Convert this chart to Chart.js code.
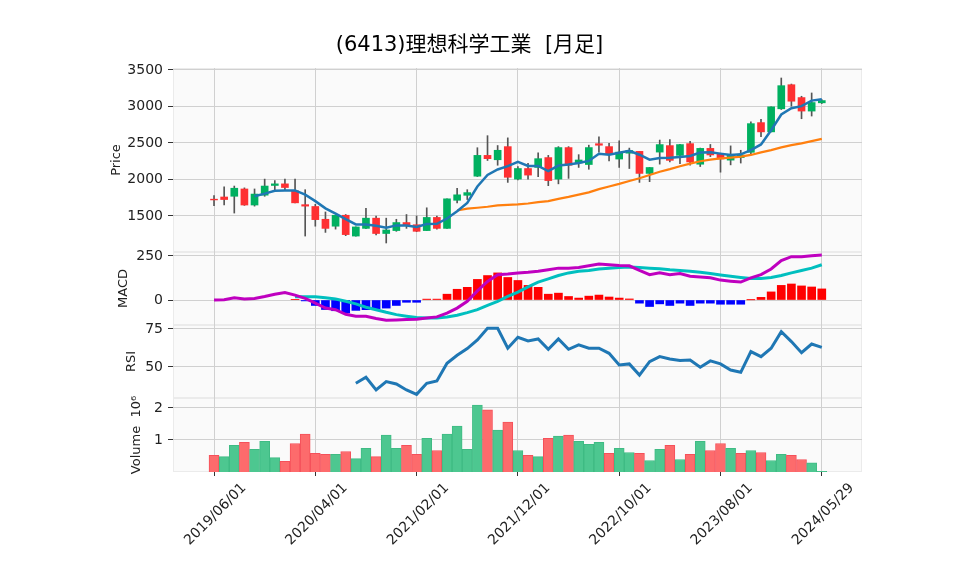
<!DOCTYPE html>
<html>
<head>
<meta charset="utf-8">
<script src="https://cdn.jsdelivr.net/npm/chart.js@4.4.1/dist/chart.umd.min.js"></script>
<style>
  html, body { margin: 0; padding: 0; background: #fff; }
</style>
</head>
<body>
<canvas id="myChart" width="958" height="575"></canvas>
<script>
// monthly candles, index 0 = 2019/06 ... index 60 = 2024/05/29
const tickIndex = [0, 10, 20, 30, 40, 50, 60];
const tickLabels = ["2019/06/01", "2020/04/01", "2021/02/01", "2021/12/01", "2022/10/01", "2023/08/01", "2024/05/29"];

const opens = [1730, 1760, 1770, 1870, 1650, 1785, 1918, 1940, 1845, 1655,
  1630, 1455, 1360, 1510, 1225, 1330, 1470, 1260, 1300, 1410,
  1380, 1300, 1480, 1330, 1715, 1783, 2045, 2330, 2270, 2450,
  2005, 2150, 2165, 2300, 2005, 2437, 2227, 2205, 2490, 2450,
  2280, 2360, 2385, 2083, 2375, 2464, 2330, 2491, 2209, 2426,
  2345, 2265, 2300, 2372, 2779, 2652, 2968, 3298, 3122, 2937, 3050];
const highs = [1780, 1900, 1910, 1885, 1870, 2005, 1985, 2005, 2005, 1860,
  1660, 1555, 1510, 1520, 1350, 1605, 1500, 1470, 1455, 1520,
  1500, 1612, 1500, 1735, 1880, 1860, 2435, 2600, 2465, 2570,
  2175, 2220, 2365, 2330, 2450, 2450, 2340, 2470, 2585, 2495,
  2530, 2430, 2385, 2165, 2540, 2545, 2480, 2522, 2430, 2480,
  2358, 2460, 2400, 2790, 2825, 2995, 3390, 3307, 3140, 3185, 3095];
const lows = [1640, 1650, 1540, 1645, 1635, 1770, 1845, 1860, 1680, 1225,
  1360, 1275, 1320, 1230, 1225, 1325, 1240, 1130, 1290, 1330,
  1285, 1300, 1320, 1330, 1680, 1725, 2040, 2260, 2195, 1960,
  1995, 2005, 2040, 1915, 1940, 2015, 2165, 2140, 2375, 2255,
  2165, 2150, 1960, 1970, 2210, 2240, 2215, 2195, 2177, 2313,
  2100, 2200, 2225, 2335, 2585, 2650, 2959, 3004, 2832, 2869, 3040];
const closes = [1720, 1725, 1880, 1650, 1800, 1910, 1940, 1890, 1680, 1635,
  1450, 1330, 1510, 1245, 1350, 1470, 1260, 1308, 1410, 1380,
  1290, 1480, 1330, 1735, 1790, 1820, 2330, 2285, 2400, 2030,
  2150, 2060, 2285, 1985, 2437, 2195, 2267, 2437, 2469, 2352,
  2375, 2397, 2083, 2164, 2478, 2262, 2478, 2240, 2426, 2336,
  2281, 2345, 2335, 2765, 2652, 2995, 3285, 3072, 2937, 3054, 3081];

// volume in millions of shares
const volumes = [0.52, 0.48, 0.83, 0.93, 0.71, 0.96, 0.45, 0.33, 0.89, 1.18,
  0.58, 0.55, 0.55, 0.64, 0.42, 0.74, 0.48, 1.15, 0.74, 0.83,
  0.55, 1.05, 0.67, 1.18, 1.43, 0.71, 2.09, 1.94, 1.31, 1.56,
  0.67, 0.52, 0.48, 1.05, 1.12, 1.15, 0.96, 0.86, 0.93, 0.58,
  0.74, 0.61, 0.58, 0.36, 0.71, 0.83, 0.39, 0.55, 0.96, 0.67,
  0.89, 0.74, 0.58, 0.67, 0.61, 0.36, 0.55, 0.52, 0.39, 0.29, 0.02];

// moving averages, first value at index 4 / 24
const ma5Start = 4;
const ma5 = [1770, 1806, 1846, 1850, 1850, 1792, 1703, 1604, 1532, 1456,
  1384, 1384, 1367, 1340, 1371, 1371, 1349, 1389, 1393, 1465,
  1564, 1680, 1904, 2061, 2137, 2182, 2240, 2186, 2186, 2115,
  2191, 2204, 2227, 2254, 2352, 2339, 2366, 2392, 2339, 2272,
  2294, 2298, 2307, 2321, 2370, 2372, 2354, 2336, 2345, 2403,
  2480, 2675, 2890, 2975, 3005, 3080, 3100];
const ma25Start = 24;
const ma25 = [1575, 1600, 1613, 1626, 1644, 1653, 1658, 1671, 1690, 1703,
  1734, 1761, 1792, 1823, 1868, 1904, 1940, 1980, 2016, 2061,
  2106, 2142, 2182, 2218, 2250, 2272, 2290, 2300, 2313, 2336,
  2372, 2403, 2440, 2471, 2494, 2525, 2557];

const macd = [0, 2, 13, 6, 9, 20, 33, 43, 28, 9,
  -18, -46, -55, -81, -92, -92, -105, -115, -113, -111,
  -109, -102, -96, -74, -46, -7, 52, 105, 144, 148,
  154, 157, 163, 172, 181, 181, 185, 194, 204, 200,
  196, 194, 168, 144, 154, 144, 150, 135, 131, 126,
  113, 107, 102, 126, 144, 176, 224, 246, 246, 252, 255];
const signalStart = 8;
const signal = [18, 18, 18, 13, 6, -7, -22, -41, -55, -70,
  -83, -92, -100, -102, -102, -96, -87, -72, -55, -30,
  -8, 20, 45, 75, 102, 120, 139, 154, 163, 168,
  176, 181, 185, 187, 185, 181, 178, 172, 168, 163,
  157, 150, 142, 135, 128, 122, 122, 128, 139, 154,
  168, 181, 200];
const histStart = 8;
const hist = [4, -5, -31, -54, -61, -74, -59, -55, -50, -46,
  -31, -13, -13, 5, 5, 33, 61, 72, 117, 139,
  154, 128, 111, 83, 72, 33, 39, 20, 11, 22,
  28, 17, 11, 6, -18, -37, -22, -31, -18, -31,
  -18, -18, -24, -24, -24, 1, 15, 46, 83, 91,
  80, 74, 63];

const rsiStart = 14;
const rsi = [39.3, 43.2, 34.9, 40.4, 38.8, 34.9, 32.0, 39.3, 40.8, 52.4,
  57.7, 62.1, 67.8, 75.4, 75.4, 62.3, 69.5, 67.1, 68.4, 61.6,
  68.4, 61.6, 64.5, 62.3, 62.3, 59.0, 51.3, 52.0, 44.7, 53.5,
  56.8, 55.3, 54.2, 54.6, 49.8, 54.0, 52.0, 48.0, 46.5, 60.1,
  56.8, 62.3, 73.2, 66.7, 59.4, 65.1, 62.9];

const UP = "#00b060";
const DOWN = "#fe3032";
const VOL_UP = "#4dc790";
const VOL_DOWN = "#fd6b6c";

const tickFont = { family: "'DejaVu Sans', sans-serif", size: 14 };
const titleFont = { family: "'DejaVu Sans', sans-serif", size: 13 };

const series = (arr, start) => arr.map((v, k) => ({ x: k + start, y: v }));
const candleUp = opens.map((o, i) => closes[i] >= o);
const volUp = closes.map((c, i) => i > 0 && c >= closes[i - 1]);

const yAxis = (min, max, ticks, title, titlePad, weight) => ({
  type: "linear",
  position: "left",
  stack: "panels",
  stackWeight: weight,
  min: min,
  max: max,
  afterBuildTicks: (axis) => {
    axis.ticks = ticks.map((v) => ({ value: v }));
  },
  afterFit: (axis) => {
    axis.width = 96;
  },
  grid: { color: "#d0d0d0", tickColor: "#333", tickLength: 5 },
  border: { display: false },
  ticks: { color: "#222", font: tickFont, padding: 5, callback: (v) => String(v) },
  title: {
    display: true,
    text: title,
    color: "#222",
    font: titleFont,
    padding: { top: titlePad, bottom: 0 },
  },
});

const panelBg = {
  id: "panelBg",
  beforeDraw(chart) {
    const { ctx, chartArea } = chart;
    ctx.save();
    ctx.fillStyle = "#fff";
    ctx.fillRect(0, 0, chart.width, chart.height);
    ["yPrice", "yMacd", "yRsi", "yVol"].forEach((id) => {
      const s = chart.scales[id];
      ctx.fillStyle = "#fafafa";
      ctx.fillRect(chartArea.left, s.top, chartArea.right - chartArea.left, s.bottom - s.top);
      ctx.strokeStyle = "#ebebeb";
      ctx.lineWidth = 1;
      ctx.strokeRect(chartArea.left + 0.5, s.top + 0.5, chartArea.right - chartArea.left - 1, s.bottom - s.top - 1);
    });
    ctx.restore();
  },
};

const lineDs = (label, data, axis, color, width) => ({
  type: "line",
  label: label,
  data: data,
  yAxisID: axis,
  borderColor: color,
  borderWidth: width,
  pointRadius: 0,
  tension: 0,
  fill: false,
  order: 0,
});

const ctx = document.getElementById("myChart");
new Chart(ctx, {
  type: "line",
  data: {
    datasets: [
      lineDs("MA5", series(ma5, ma5Start), "yPrice", "#1f77b4", 2.5),
      lineDs("MA25", series(ma25, ma25Start), "yPrice", "#ff7f0e", 2.2),
      {
        type: "bar",
        label: "body",
        data: opens.map((o, i) => ({ x: i, y: [o, closes[i]] })),
        yAxisID: "yPrice",
        backgroundColor: candleUp.map((u) => (u ? UP : DOWN)),
        barThickness: 7,
        grouped: false,
        order: 1,
      },
      {
        type: "bar",
        label: "wick",
        data: lows.map((l, i) => ({ x: i, y: [l, highs[i]] })),
        yAxisID: "yPrice",
        backgroundColor: "#555",
        barThickness: 1,
        grouped: false,
        order: 2,
      },
      lineDs("MACD", series(macd, 0), "yMacd", "#bf00bf", 3),
      lineDs("Signal", series(signal, signalStart), "yMacd", "#00bfbf", 3),
      {
        type: "bar",
        label: "hist",
        data: series(hist, histStart),
        yAxisID: "yMacd",
        backgroundColor: hist.map((h) => (h >= 0 ? "#ff0000" : "#0000ff")),
        barThickness: 8,
        grouped: false,
        order: 1,
      },
      lineDs("RSI", series(rsi, rsiStart), "yRsi", "#1f77b4", 3),
      {
        type: "bar",
        label: "Volume",
        data: series(volumes, 0),
        yAxisID: "yVol",
        backgroundColor: volUp.map((u) => (u ? VOL_UP : VOL_DOWN)),
        borderColor: volUp.map((u) => (u ? "#3fbb84" : "#f5505a")),
        borderWidth: 1,
        barThickness: 10,
        grouped: false,
        order: 1,
      },
    ],
  },
  options: {
    responsive: false,
    animation: false,
    layout: { padding: { left: 77, right: 96, top: 0, bottom: 0 } },
    plugins: {
      legend: { display: false },
      tooltip: { enabled: false },
      title: {
        display: true,
        text: "(6413)理想科学工業  [月足]",
        color: "#000",
        font: { family: "'DejaVu Sans', 'Noto Sans CJK JP', sans-serif", size: 21, weight: "normal" },
        padding: { top: 33, bottom: 9.8 },
      },
    },
    scales: {
      x: {
        type: "linear",
        offset: false,
        min: -4.05,
        max: 63.97,
        afterBuildTicks: (axis) => {
          axis.ticks = tickIndex.map((v) => ({ value: v }));
        },
        afterFit: (axis) => {
          axis.height = 103;
        },
        grid: { color: "#d0d0d0", tickColor: "#333", tickLength: 4, offset: false },
        border: { display: false },
        ticks: {
          color: "#222",
          font: tickFont,
          autoSkip: false,
          minRotation: 45,
          maxRotation: 45,
          labelOffset: 30,
          padding: 4,
          callback: (v, i) => tickLabels[i],
        },
      },
      yVol: yAxis(0, 2.31, [1, 2], "Volume  10⁶", 52, 74),
      yRsi: yAxis(29.6, 77.6, [50, 75], "RSI", 47, 73),
      yMacd: yAxis(-142, 272.7, [0, 250], "MACD", 39, 73),
      yPrice: yAxis(1006.6, 3527, [1500, 2000, 2500, 3000, 3500], "Price", 32, 184),
    },
  },
  plugins: [panelBg],
});
</script>
</body>
</html>
